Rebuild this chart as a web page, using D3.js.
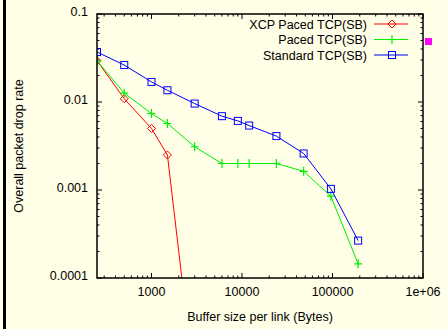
<!DOCTYPE html>
<html>
<head>
<meta charset="utf-8">
<script src="https://cdn.jsdelivr.net/npm/d3@7"></script>
<style>
    html, body { margin: 0; padding: 0; background: #fffee6; }
    svg { display: block; font-family: "Liberation Sans", Arial, sans-serif; }
</style>
</head>
<body>
<div class="container"></div>
<script>
// data
const bufferSizes = [250, 500, 1000, 1500, 3000, 6000, 9000, 12000, 24000, 48000, 96000, 192000];
const xcpPaced = [0.0295, 0.0109, 0.0050, 0.0025, 0.0000057];
const pacedTcp = [0.0294, 0.0126, 0.0074, 0.0057, 0.0031, 0.0020, 0.0020, 0.0020, 0.0020, 0.00163, 0.00085, 0.000145];
const standardTcp = [0.037, 0.0263, 0.0169, 0.0136, 0.0096, 0.0069, 0.0061, 0.0054, 0.0041, 0.0026, 0.00103, 0.000266];

const seriesNames = ["XCP Paced TCP(SB)", "Paced TCP(SB)", "Standard TCP(SB)"];
const seriesColors = ["#ff0000", "#00ee00", "#0000ff"];
const seriesMarkers = ["diamond", "plus", "square"];

const xTicks = [1000, 10000, 100000, 1000000];
const xTickLabels = ["1000", "10000", "100000", "1e+06"];
const yTicks = [0.1, 0.01, 0.001, 0.0001];
const yTickLabels = ["0.1", "0.01", "0.001", "0.0001"];

const series = seriesNames.map((name, i) => ({
    name: name,
    color: seriesColors[i],
    marker: seriesMarkers[i],
    values: [xcpPaced, pacedTcp, standardTcp][i].map((v, j) => ({ x: bufferSizes[j], y: v }))
}));

// frame
const W = 447, H = 329;
const plot = { left: 97, right: 423, top: 14, bottom: 278 };

const svg = d3.select(".container")
    .append("svg")
    .attr("width", W)
    .attr("height", H);

svg.append("rect")
    .attr("width", W)
    .attr("height", H)
    .attr("fill", "#fffee6");

// thick black edge on the left side of the picture
svg.append("rect")
    .attr("x", 3)
    .attr("y", 0)
    .attr("width", 3)
    .attr("height", H)
    .attr("fill", "#000");

const x = d3.scaleLog()
    .domain([250, 1000000])
    .range([plot.left, plot.right]);

const y = d3.scaleLog()
    .domain([0.0001, 0.1])
    .range([plot.bottom, plot.top]);

// minor ticks: 2..9 of each decade
const minorX = [];
for (let e = 2; e < 6; e++) {
    for (let m = 2; m <= 9; m++) {
        const v = m * Math.pow(10, e);
        if (v > 250 && v < 1000000) minorX.push(v);
    }
}
const minorY = [];
for (let e = -4; e < -1; e++) {
    for (let m = 2; m <= 9; m++) minorY.push(m * Math.pow(10, e));
}

const ticks = svg.append("g")
    .attr("stroke", "#000")
    .attr("stroke-width", 1);

// ticks on all four sides, pointing inward
function tickX(v, len) {
    ticks.append("line").attr("x1", x(v)).attr("x2", x(v)).attr("y1", plot.bottom).attr("y2", plot.bottom - len);
    ticks.append("line").attr("x1", x(v)).attr("x2", x(v)).attr("y1", plot.top).attr("y2", plot.top + len);
}
function tickY(v, len) {
    ticks.append("line").attr("y1", y(v)).attr("y2", y(v)).attr("x1", plot.left).attr("x2", plot.left + len);
    ticks.append("line").attr("y1", y(v)).attr("y2", y(v)).attr("x1", plot.right).attr("x2", plot.right - len);
}
xTicks.forEach(v => tickX(v, 5));
minorX.forEach(v => tickX(v, 2.5));
yTicks.forEach(v => tickY(v, 5));
minorY.forEach(v => tickY(v, 2.5));

// tick labels
svg.append("g")
    .selectAll("text")
    .data(xTicks)
    .enter()
    .append("text")
    .attr("x", d => x(d))
    .attr("y", 296)
    .attr("text-anchor", "middle")
    .attr("font-size", 12.5)
    .text((d, i) => xTickLabels[i]);

svg.append("g")
    .selectAll("text")
    .data(yTicks)
    .enter()
    .append("text")
    .attr("x", 88)
    .attr("y", d => y(d) + 1.5)
    .attr("text-anchor", "end")
    .attr("font-size", 12.5)
    .text((d, i) => yTickLabels[i]);

// axis titles
svg.append("text")
    .attr("x", 260)
    .attr("y", 321)
    .attr("text-anchor", "middle")
    .attr("font-size", 12.5)
    .text("Buffer size per link (Bytes)");

svg.append("text")
    .attr("transform", `translate(23, ${(plot.top + plot.bottom) / 2}) rotate(-90)`)
    .attr("text-anchor", "middle")
    .attr("font-size", 12.5)
    .text("Overall packet drop rate");

// clip the series to the plot area
svg.append("clipPath")
    .attr("id", "plot-clip")
    .append("rect")
    .attr("x", plot.left)
    .attr("y", plot.top)
    .attr("width", plot.right - plot.left)
    .attr("height", plot.bottom - plot.top);

const line = d3.line()
    .x(d => x(d.x))
    .y(d => y(d.y));

function drawMarker(g, type, cx, cy, color) {
    if (type === "diamond") {
        g.append("path")
            .attr("d", `M${cx},${cy - 4}L${cx + 4},${cy}L${cx},${cy + 4}L${cx - 4},${cy}Z`)
            .attr("fill", "none").attr("stroke", color).attr("stroke-width", 1);
    } else if (type === "plus") {
        g.append("path")
            .attr("d", `M${cx - 4},${cy}H${cx + 4}M${cx},${cy - 4.5}V${cy + 4.5}`)
            .attr("fill", "none").attr("stroke", color).attr("stroke-width", 1.2);
    } else {
        g.append("rect")
            .attr("x", cx - 3.5).attr("y", cy - 3.5)
            .attr("width", 7).attr("height", 7)
            .attr("fill", "none").attr("stroke", color).attr("stroke-width", 1);
    }
}

const seriesGroup = svg.append("g").attr("clip-path", "url(#plot-clip)");

series.forEach(s => {
    const g = seriesGroup.append("g");
    g.append("path")
        .datum(s.values)
        .attr("d", line)
        .attr("fill", "none")
        .attr("stroke", s.color)
        .attr("stroke-width", 1);
    s.values.forEach(d => drawMarker(g, s.marker, x(d.x), y(d.y), s.color));
});

// plot frame
svg.append("rect")
    .attr("x", plot.left)
    .attr("y", plot.top)
    .attr("width", plot.right - plot.left)
    .attr("height", plot.bottom - plot.top)
    .attr("fill", "none")
    .attr("stroke", "#000")
    .attr("stroke-width", 1.5);

// legend, top right inside the frame
const legend = svg.append("g");
series.forEach((s, i) => {
    const ly = 24 + i * 15.5;
    legend.append("text")
        .attr("x", 367)
        .attr("y", ly + 4.5)
        .attr("text-anchor", "end")
        .attr("font-size", 12.5)
        .text(s.name);
    legend.append("line")
        .attr("x1", 374).attr("x2", 408)
        .attr("y1", ly).attr("y2", ly)
        .attr("stroke", s.color)
        .attr("stroke-width", 1);
    drawMarker(legend, s.marker, 392, ly, s.color);
});

// small magenta square right of the frame
svg.append("rect")
    .attr("x", 425)
    .attr("y", 38)
    .attr("width", 7)
    .attr("height", 7)
    .attr("fill", "#ff00ff");
</script>
</body>
</html>
